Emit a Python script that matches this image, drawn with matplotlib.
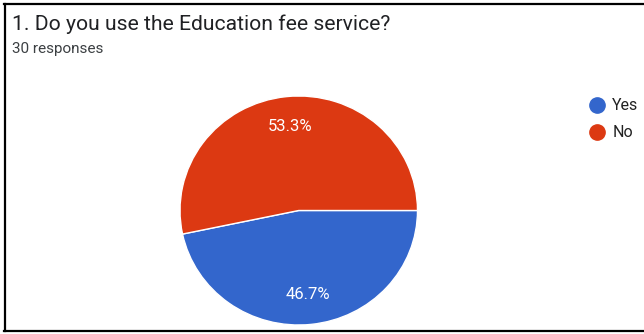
import matplotlib
matplotlib.use("Agg")
import matplotlib.pyplot as plt
from matplotlib.lines import Line2D

title = "1. Do you use the Education fee service?"
subtitle = "30 responses"
labels = ["Yes", "No"]
shares = [46.7, 53.3]
colors = ["#3366cc", "#dc3912"]

plt.rcParams["font.family"] = ["Roboto", "DejaVu Sans"]

W, H = 644, 334
fig = plt.figure(figsize=(W / 100, H / 100), dpi=100)

def fx(px):
    return px / W

def fy(py):
    return 1 - py / H

# frame: top, left and bottom rules
fig.add_artist(Line2D([fx(4), 1], [fy(3.5), fy(3.5)], color="black", lw=1.6))
fig.add_artist(Line2D([fx(4.5), fx(4.5)], [fy(3.5), fy(331)], color="black", lw=1.6))
fig.add_artist(Line2D([fx(4), 1], [fy(331), fy(331)], color="black", lw=1.6))

fig.text(fx(12), fy(30), title, fontsize=15.2, color="#202124", va="baseline")
fig.text(fx(12), fy(53), subtitle, fontsize=11, color="#3c4043", va="baseline")

ax = fig.add_axes([fx(180), fy(325), fx(237.5), 229 / H])
wedges, texts, autotexts = ax.pie(
    shares, colors=colors, startangle=0, counterclock=False,
    autopct=lambda p: f"{p:.1f}%", pctdistance=0.74,
    wedgeprops=dict(edgecolor="white", linewidth=1.0),
    textprops=dict(color="white", fontsize=12))
ax.set_aspect("auto")
ax.set_xlim(-1, 1)
ax.set_ylim(-1, 1)

handles = [Line2D([], [], marker="o", linestyle="none", markersize=11,
                  markerfacecolor=c, markeredgecolor=c) for c in colors]
fig.legend(handles, labels, loc="upper left", bbox_to_anchor=(fx(589), fy(98.5)),
           frameon=False, fontsize=11.5, handletextpad=0.45, labelspacing=0.75,
           handlelength=1.0, borderaxespad=0, borderpad=0, labelcolor="#222222")

fig.savefig("out.png", dpi=100)
